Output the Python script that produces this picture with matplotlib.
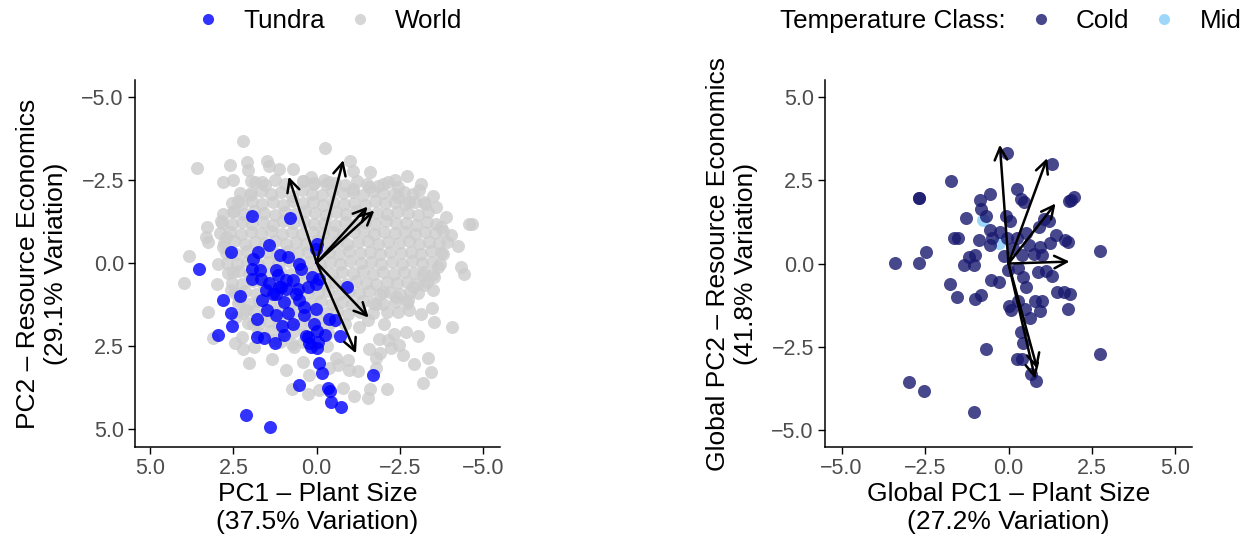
import numpy as np
import matplotlib
matplotlib.use('Agg')
import matplotlib.pyplot as plt
from matplotlib.lines import Line2D

plt.rcParams['font.family'] = ['Liberation Sans', 'DejaVu Sans']

# ---- left panel: tundra vs world PCA scores (PC1, PC2) ----
tundra_scores = [
    (1.93, -1.41), (0.80, -1.35), (-0.01, -0.57), (0.02, -0.42), (1.42, -0.52), (2.57, -0.33),
    (1.77, -0.32), (1.92, -0.10), (1.09, -0.22), (0.87, -0.17), (0.52, 0.03), (0.47, 0.18),
    (3.54, 0.20), (1.95, 0.20), (1.69, 0.21), (1.22, 0.23), (1.17, 0.38), (1.94, 0.48),
    (1.67, 0.48), (0.14, 0.43), (-0.08, 0.48), (0.72, 0.51), (1.42, 0.61), (1.52, 0.83),
    (1.07, 0.73), (0.92, 0.78), (0.57, 0.78), (0.27, 0.73), (0.02, 0.63), (-0.90, 0.74),
    (1.22, 0.93), (0.97, 1.18), (0.62, 0.93), (1.64, 1.13), (2.29, 1.01), (2.82, 1.13),
    (0.52, 1.13), (0.37, 1.33), (0.02, 1.40), (1.50, 1.41), (1.22, 1.58), (0.85, 1.50),
    (2.57, 1.50), (0.39, 1.58), (1.79, 1.68), (0.72, 1.83), (1.04, 1.91), (0.07, 1.83),
    (-0.38, 1.70), (-0.55, 1.73), (2.54, 1.90), (2.97, 2.16), (0.00, 2.05), (-0.25, 2.16),
    (0.97, 2.16), (1.79, 2.23), (1.57, 2.25), (0.32, 2.21), (-0.70, 2.21), (1.25, 2.43),
    (0.22, 2.43), (-0.03, 2.38), (0.17, 2.53), (-0.01, 2.58), (-0.08, 3.03), (-0.16, 3.31),
    (-1.68, 3.38), (0.52, 3.68), (-0.35, 3.78), (-0.41, 3.85), (-0.43, 4.18), (-0.74, 4.33),
    (2.12, 4.58), (1.39, 4.93), (1.12, 0.73), (1.32, 0.93), (0.92, 0.53), (0.27, 2.23),
]

world_scores = [
    # dense core
    (1.85, -2.42), (1.55, -2.35), (1.25, -2.48), (0.95, -2.38), (0.40, -2.45), (0.10, -2.36),
    (-0.22, -2.50), (-0.55, -2.40), (-0.85, -2.33), (-1.20, -2.45), (-1.52, -2.38), (-1.85, -2.30),
    (-2.15, -2.42), (-2.45, -2.28),
    (2.30, -2.10), (2.00, -2.05), (1.68, -2.16), (1.38, -2.06), (1.06, -2.14), (0.75, -2.02),
    (0.45, -2.18), (0.15, -2.08), (-0.15, -2.04), (-0.46, -2.15), (-0.78, -2.09), (-1.08, -2.13),
    (-1.40, -2.03), (-1.70, -2.17), (-2.00, -2.10), (-2.32, -2.06), (-2.62, -2.14), (-2.90, -2.08),
    (2.55, -1.80), (2.25, -1.76), (1.95, -1.85), (1.63, -1.78), (1.32, -1.83), (1.02, -1.74),
    (0.70, -1.86), (0.40, -1.79), (0.10, -1.82), (-0.20, -1.75), (-0.50, -1.84), (-0.82, -1.78),
    (-1.12, -1.81), (-1.44, -1.73), (-1.75, -1.86), (-2.05, -1.79), (-2.36, -1.83), (-2.66, -1.76),
    (-2.96, -1.82), (-3.24, -1.78),
    (2.80, -1.48), (2.50, -1.53), (2.18, -1.46), (1.88, -1.55), (1.57, -1.50), (1.26, -1.44),
    (0.96, -1.52), (0.64, -1.47), (0.34, -1.55), (0.04, -1.49), (-0.27, -1.45), (-0.58, -1.53),
    (-0.88, -1.48), (-1.19, -1.56), (-1.50, -1.46), (-1.80, -1.51), (-2.12, -1.47), (-2.42, -1.54),
    (-2.73, -1.49), (-3.03, -1.45), (-3.34, -1.52),
    (2.85, -1.20), (2.55, -1.16), (2.24, -1.24), (1.93, -1.18), (1.62, -1.22), (1.31, -1.15),
    (1.00, -1.25), (0.70, -1.19), (0.39, -1.23), (0.08, -1.17), (-0.23, -1.21), (-0.54, -1.14),
    (-0.84, -1.24), (-1.15, -1.18), (-1.46, -1.22), (-1.76, -1.16), (-2.07, -1.25), (-2.38, -1.19),
    (-2.68, -1.21), (-2.99, -1.15), (-3.30, -1.23), (-3.58, -1.18),
    (2.90, -0.90), (2.60, -0.94), (2.28, -0.86), (1.97, -0.93), (1.66, -0.88), (1.36, -0.95),
    (1.05, -0.87), (0.74, -0.92), (0.43, -0.85), (0.12, -0.94), (-0.18, -0.89), (-0.49, -0.93),
    (-0.80, -0.86), (-1.11, -0.91), (-1.42, -0.95), (-1.72, -0.87), (-2.03, -0.92), (-2.34, -0.88),
    (-2.64, -0.94), (-2.95, -0.86), (-3.26, -0.91), (-3.56, -0.89), (-3.80, -0.95),
    (2.78, -0.60), (2.48, -0.64), (2.16, -0.56), (1.85, -0.63), (1.54, -0.58), (1.24, -0.65),
    (0.93, -0.57), (0.62, -0.62), (0.31, -0.55), (0.00, -0.64), (-0.31, -0.59), (-0.62, -0.63),
    (-0.92, -0.56), (-1.23, -0.61), (-1.54, -0.65), (-1.84, -0.57), (-2.15, -0.62), (-2.46, -0.58),
    (-2.77, -0.64), (-3.08, -0.56), (-3.38, -0.61), (-3.68, -0.59), (-3.90, -0.63),
    (2.72, -0.30), (2.42, -0.26), (2.10, -0.34), (1.80, -0.28), (1.49, -0.32), (1.18, -0.25),
    (0.87, -0.35), (0.56, -0.29), (0.25, -0.33), (-0.06, -0.26), (-0.37, -0.31), (-0.68, -0.27),
    (-0.98, -0.34), (-1.29, -0.28), (-1.60, -0.32), (-1.90, -0.25), (-2.21, -0.33), (-2.52, -0.29),
    (-2.83, -0.31), (-3.14, -0.26), (-3.44, -0.34), (-3.74, -0.28),
    (2.70, 0.00), (2.40, 0.04), (2.08, -0.04), (1.77, 0.03), (1.46, -0.02), (1.15, 0.05),
    (0.84, -0.05), (0.53, 0.02), (0.22, -0.03), (-0.09, 0.04), (-0.40, -0.01), (-0.71, 0.05),
    (-1.01, -0.04), (-1.32, 0.02), (-1.63, -0.02), (-1.94, 0.05), (-2.25, -0.03), (-2.56, 0.03),
    (-2.86, -0.05), (-3.17, 0.02), (-3.47, -0.02), (-3.70, 0.04),
    (2.65, 0.30), (2.34, 0.26), (2.02, 0.34), (1.71, 0.28), (1.40, 0.33), (1.09, 0.25),
    (0.78, 0.35), (0.47, 0.29), (0.16, 0.32), (-0.15, 0.26), (-0.46, 0.34), (-0.77, 0.28),
    (-1.08, 0.31), (-1.38, 0.25), (-1.69, 0.33), (-2.00, 0.29), (-2.31, 0.35), (-2.62, 0.27),
    (-2.92, 0.32), (-3.22, 0.28), (-3.50, 0.33),
    (2.55, 0.60), (2.24, 0.64), (1.92, 0.56), (1.61, 0.63), (1.30, 0.58), (0.99, 0.65),
    (0.68, 0.57), (0.37, 0.62), (0.06, 0.56), (-0.25, 0.64), (-0.56, 0.59), (-0.87, 0.63),
    (-1.18, 0.56), (-1.48, 0.61), (-1.79, 0.65), (-2.10, 0.58), (-2.41, 0.62), (-2.72, 0.57),
    (-3.02, 0.63), (-3.30, 0.59),
    (2.45, 0.90), (2.14, 0.86), (1.82, 0.94), (1.51, 0.88), (1.20, 0.93), (0.89, 0.85),
    (0.58, 0.95), (0.27, 0.89), (-0.04, 0.92), (-0.35, 0.86), (-0.66, 0.94), (-0.97, 0.88),
    (-1.28, 0.91), (-1.58, 0.85), (-1.89, 0.93), (-2.20, 0.89), (-2.50, 0.95), (-2.80, 0.87),
    (-3.05, 0.92),
    (2.35, 1.20), (2.04, 1.24), (1.72, 1.16), (1.41, 1.23), (1.10, 1.18), (0.79, 1.25),
    (0.48, 1.17), (0.17, 1.22), (-0.14, 1.16), (-0.45, 1.24), (-0.76, 1.19), (-1.07, 1.23),
    (-1.38, 1.16), (-1.68, 1.21), (-2.00, 1.25), (-2.35, 1.18), (-2.70, 1.22),
    (2.20, 1.50), (1.88, 1.46), (1.57, 1.54), (1.26, 1.48), (0.95, 1.53), (0.64, 1.45),
    (0.33, 1.55), (0.02, 1.49), (-0.29, 1.52), (-0.60, 1.46), (-0.95, 1.54), (-1.30, 1.48),
    (-1.70, 1.52), (-2.10, 1.47),
    (2.05, 1.80), (1.74, 1.84), (1.43, 1.76), (1.12, 1.83), (0.81, 1.78), (0.50, 1.85),
    (0.19, 1.77), (-0.12, 1.82), (-0.45, 1.79), (-0.85, 1.84),
    (1.75, 2.10), (1.40, 2.06), (1.05, 2.14), (0.70, 2.08), (0.35, 2.13), (0.02, 2.05), (-0.35, 2.12),
    (1.10, 2.40), (0.75, 2.46), (0.40, 2.38), (0.05, 2.44), (-0.30, 2.50),
    # upper and left edge
    (2.20, -3.66), (3.60, -2.84), (2.60, -2.95), (2.09, -3.02), (2.07, -2.79), (1.50, -3.07),
    (1.42, -2.91), (1.14, -2.82), (0.70, -2.81), (2.82, -2.42), (2.52, -2.49), (-0.26, -3.45),
    (1.97, -2.45), (1.64, -2.44), (1.97, -2.09), (2.37, -1.87), (2.47, -1.57), (2.87, -1.27),
    (3.30, -1.09), (3.32, -0.77), (3.27, -0.62), (3.84, -0.19), (2.97, 0.05), (2.82, -0.47),
    (2.72, -0.77), (0.17, -2.59), (0.42, -2.47), (0.07, -2.39), (-0.28, -2.37),
    # upper right edge
    (-1.00, -3.05), (-1.08, -2.77), (-1.61, -2.74), (-2.36, -2.49), (-2.72, -2.62), (-3.13, -2.37),
    (-3.06, -2.19), (-3.48, -2.02), (-3.88, -1.39), (-4.56, -1.17), (-4.65, -1.17), (-2.00, -2.37),
    (-1.58, -2.27), (-1.08, -2.22), (-0.38, -2.42), (-3.23, -1.82), (-3.58, -1.67), (-3.73, -1.07),
    (-4.03, -0.82), (-4.23, -0.49), (-4.33, 0.13), (-2.78, -1.82), (-2.43, -1.97), (-3.78, -0.27),
    # lower left
    (3.97, 0.61), (3.00, 0.63), (2.57, 0.81), (3.27, 1.48), (3.12, 2.25), (2.44, 2.43),
    (2.22, 2.61), (2.02, 3.03), (1.34, 2.91), (0.92, 3.23), (0.42, 2.98), (0.22, 3.38),
    (0.74, 3.81), (0.27, 3.95), (-0.06, 3.83), (2.24, 2.23), (1.87, 2.53), (1.32, 2.33),
    (0.67, 2.53), (2.42, 1.63), (2.12, 1.43), (1.92, 1.83), (2.52, 0.28), (2.32, 1.13),
    # lower right
    (-4.43, 0.33), (-3.63, 0.13), (-3.50, 0.83), (-4.06, 1.93), (-3.53, 1.78), (-3.13, 1.53),
    (-3.46, 1.36), (-3.05, 2.21), (-2.93, 3.06), (-3.43, 3.28), (-3.18, 3.61), (-3.33, 2.86),
    (-2.60, 2.78), (-2.48, 2.48), (-2.15, 2.31), (-1.90, 2.73), (-1.58, 2.61), (-1.78, 3.18),
    (-1.61, 3.81), (-2.10, 3.81), (-1.53, 4.08), (-1.13, 4.01), (-0.78, 3.76), (-0.98, 3.23),
    (-1.23, 3.25), (-0.63, 3.08), (-2.68, 2.08), (-2.33, 2.13), (-2.23, 2.58), (-1.88, 2.28),
    (-2.03, 1.83), (-2.43, 1.48), (-2.78, 1.43), (-2.38, 1.03), (-2.73, 1.13), (-1.98, 0.88),
    (-1.78, 1.23), (-1.53, 1.73), (-1.28, 1.93), (-1.78, 2.88), (-0.93, 2.93), (-0.38, 3.18),
    (-0.58, 2.88), (-3.23, 0.68), (-2.88, 0.73), (-3.53, 0.43), (-3.18, 0.38),
]

# trait loadings (arrow tips) on the left panel
left_loadings = [(0.84, -2.59), (-0.80, -3.09), (-1.53, -1.69), (-1.73, -1.57),
                 (-1.56, 1.65), (-1.18, 2.73)]

# ---- right panel: global PCA of tundra sites ----
cold_scores = [
    (-1.71, 2.46), (-2.68, 1.97), (-2.68, 1.97), (-0.56, 2.08), (-0.86, 1.90), (-0.83, 1.63),
    (-0.66, 1.43), (-1.27, 1.37), (-0.04, 3.30), (0.24, 2.24), (0.38, 1.92), (0.46, 1.83),
    (1.29, 2.99), (1.81, 1.88), (1.88, 1.91), (1.96, 1.98), (-0.06, 1.43), (0.04, 1.28),
    (1.06, 1.33), (1.21, 1.28), (0.91, 1.11), (-0.54, 1.00), (-0.24, 0.96), (0.51, 0.93),
    (-1.64, 0.76), (-1.52, 0.76), (-0.87, 0.71), (-0.56, 0.55), (-0.49, 0.78), (-0.04, 0.76),
    (0.26, 0.76), (0.61, 0.56), (0.76, 0.28), (0.94, 0.51), (1.01, 0.26), (1.24, 0.61),
    (1.42, 0.86), (1.69, 0.70), (1.79, 0.65), (2.74, 0.37), (-2.47, 0.36), (-3.40, 0.01),
    (-2.69, 0.01), (-1.18, 0.21), (-1.00, 0.26), (-1.32, -0.05), (-1.04, -0.04), (-0.14, 0.23),
    (0.14, 0.48), (0.39, 0.26), (-0.01, -0.20), (0.28, -0.12), (0.43, -0.39), (0.52, -0.69),
    (0.88, -0.25), (1.12, -0.22), (1.31, -0.37), (-1.74, -0.60), (-1.53, -1.00), (-0.99, -1.05),
    (-0.81, -0.94), (-0.51, -0.49), (-0.28, -0.54), (0.01, -1.27), (0.08, -1.40), (0.28, -1.12),
    (0.49, -1.35), (0.64, -1.64), (0.79, -1.12), (1.01, -1.12), (0.93, -1.42), (1.46, -0.84),
    (1.66, -0.84), (1.83, -0.90), (1.79, -1.37), (0.36, -2.04), (0.42, -2.39), (0.24, -2.85),
    (0.41, -2.85), (-0.67, -2.57), (0.66, -3.30), (0.81, -3.52), (2.74, -2.70), (-2.98, -3.56),
    (-2.54, -3.82), (-1.04, -4.44),
]
mid_scores = [(-0.76, 1.30), (-0.29, 0.61)]

right_loadings = [(-0.26, 3.56), (1.16, 3.16), (1.41, 1.80), (1.83, 0.06),
                  (0.80, -3.45), (0.86, -3.15)]

ticks = [-5.0, -2.5, 0.0, 2.5, 5.0]
tick_labels = ['\u22125.0', '\u22122.5', '0.0', '2.5', '5.0']

blue = '#0000FF'
grey = '#CCCCCC'
navy = '#191970'
sky = '#87CEFA'
pt_size = 88


def style_axes(ax):
    for side in ['top', 'right']:
        ax.spines[side].set_visible(False)
    for side in ['left', 'bottom']:
        ax.spines[side].set_linewidth(1.1)
    ax.set_xticks(ticks)
    ax.set_yticks(ticks)
    ax.set_xticklabels(tick_labels)
    ax.set_yticklabels(tick_labels)
    ax.tick_params(length=5, width=1.0, labelsize=15.5, labelcolor='#4D4D4D', pad=3)


def draw_arrows(ax, tips):
    for tx, ty in tips:
        ax.annotate('', xy=(tx, ty), xytext=(0, 0),
                    arrowprops=dict(arrowstyle='->,head_length=0.9,head_width=0.45',
                                    lw=1.8, color='black', shrinkA=0, shrinkB=0),
                    zorder=5)


fig = plt.figure(figsize=(12.5, 5.44), dpi=100)
ax1 = fig.add_axes([0.108, 0.178, 0.292, 0.675])
ax2 = fig.add_axes([0.660, 0.178, 0.2936, 0.675])

w = np.array(world_scores)
t = np.array(tundra_scores)
ax1.scatter(w[:, 0], w[:, 1], s=pt_size, color=grey, alpha=0.8, linewidths=0, zorder=1)
ax1.scatter(t[:, 0], t[:, 1], s=pt_size, color=blue, alpha=0.8, linewidths=0, zorder=2)
draw_arrows(ax1, left_loadings)
ax1.set_xlim(5.45, -5.5)
ax1.set_ylim(5.55, -5.5)
style_axes(ax1)
ax1.set_xlabel('PC1 \u2013 Plant Size\n(37.5% Variation)', fontsize=19, labelpad=2)
ax1.set_ylabel('PC2 \u2013 Resource Economics\n(29.1% Variation)', fontsize=19, labelpad=10)

c = np.array(cold_scores)
m = np.array(mid_scores)
ax2.scatter(c[:, 0], c[:, 1], s=pt_size, color=navy, alpha=0.8, linewidths=0, zorder=2)
ax2.scatter(m[:, 0], m[:, 1], s=pt_size, color=sky, alpha=0.8, linewidths=0, zorder=1)
draw_arrows(ax2, right_loadings)
ax2.set_xlim(-5.5, 5.5)
ax2.set_ylim(-5.5, 5.5)
style_axes(ax2)
ax2.set_xlabel('Global PC1 \u2013 Plant Size\n(27.2% Variation)', fontsize=19, labelpad=2)
ax2.set_ylabel('Global PC2 \u2013 Resource Economics\n(41.8% Variation)', fontsize=19, labelpad=10)

# legends
h1 = [Line2D([], [], marker='o', ls='', color=blue, alpha=0.8, markersize=8, markeredgewidth=0),
      Line2D([], [], marker='o', ls='', color=grey, alpha=0.8, markersize=8, markeredgewidth=0)]
fig.legend(h1, ['Tundra', 'World'], loc='center', bbox_to_anchor=(0.263, 0.962), ncol=2,
           frameon=False, fontsize=18.7, handletextpad=0.85, columnspacing=0.85, handlelength=1.0)

fig.text(0.624, 0.962, 'Temperature Class:', fontsize=18.7, va='center', ha='left')
h2 = [Line2D([], [], marker='o', ls='', color=navy, alpha=0.8, markersize=8, markeredgewidth=0),
      Line2D([], [], marker='o', ls='', color=sky, alpha=0.8, markersize=8, markeredgewidth=0)]
fig.legend(h2, ['Cold', 'Mid'], loc='center left', bbox_to_anchor=(0.8036, 0.962), ncol=2,
           frameon=False, fontsize=18.7, handletextpad=0.85, columnspacing=0.85, handlelength=1.0)

fig.savefig('out.png', dpi=100)
